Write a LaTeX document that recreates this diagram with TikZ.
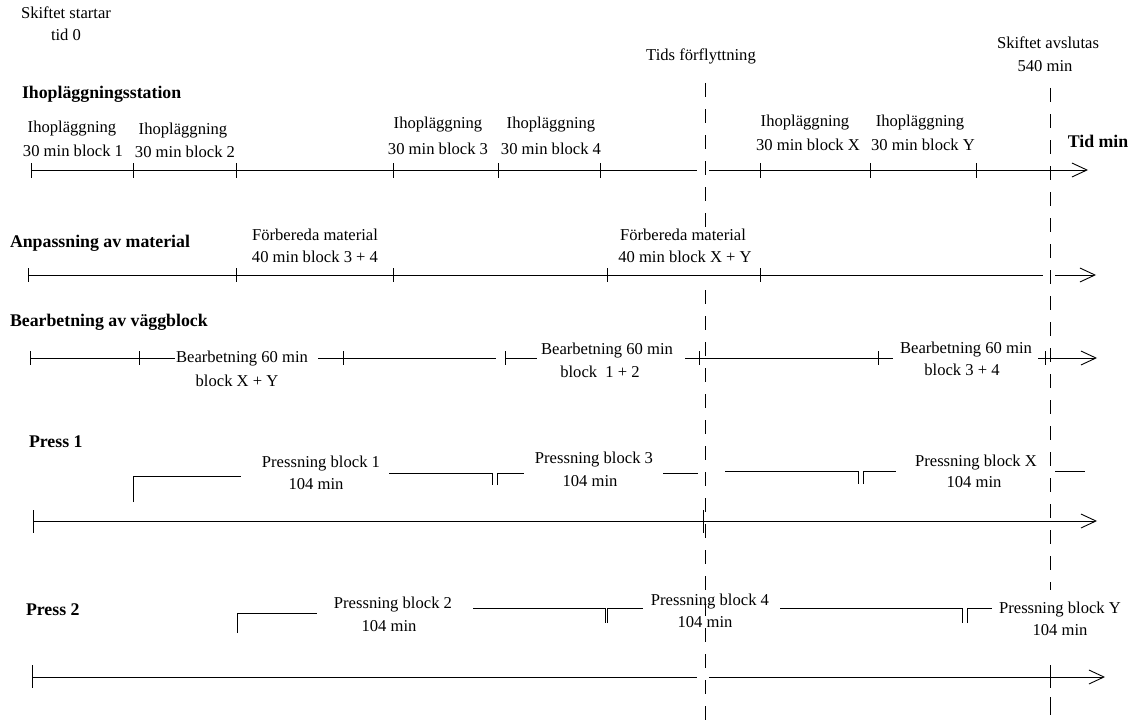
\documentclass[tikz,border=0pt]{standalone}
\usepackage{fontspec}
\setmainfont{Liberation Serif}
\usetikzlibrary{arrows.meta}
\begin{document}
\begin{tikzpicture}[x=1pt,y=-1pt,
  every node/.style={inner sep=0pt,outer sep=0pt,text height=12pt,text depth=4pt},
  lbl/.style={font=\fontsize{16.6}{18}\selectfont,align=center},
  hd/.style={font=\fontsize{17.8}{19}\selectfont\bfseries,anchor=west},
  ax/.style={line width=0.9pt},
  axarr/.style={line width=0.9pt,-{Straight Barb[length=15pt,width=14pt,line width=0.9pt]}},
  tk/.style={line width=0.9pt},
  brk/.style={line width=0.9pt},
  dsh/.style={line width=0.9pt,dash pattern=on 14pt off 12pt}]
\useasboundingbox (0,0) rectangle (1130,725);
\fill[white] (0,0) rectangle (1130,725);

% top texts
\node[lbl] (st1) at (66,15) {Skiftet startar};
\node[lbl] (st2) at (66,37) {tid 0};
\node[lbl] (tf) at (701,57) {Tids förflyttning};
\node[lbl] (sa1) at (1048,45) {Skiftet avslutas};
\node[lbl] (sa2) at (1045,67) {540 min};

% dashed lines
\coordinate (d1a) at (705,83); \coordinate (d1b) at (705,228);
\coordinate (d1c) at (705,290); \coordinate (d1d) at (705,725);
\coordinate (d2a) at (1050,88); \coordinate (d2b) at (1050,590);
\coordinate (d2c) at (1050,697); \coordinate (d2d) at (1050,715);
\draw[dsh] (d1a) -- (d1b);
\draw[dsh] (d1c) -- (d1d);
\draw[dsh] (d2a) -- (d2b);
\draw[line width=0.9pt] (d2c) -- (d2d);

% ===== Row 1 =====
\node[hd] (h1) at (22,95) {Ihopläggningsstation};
\node[hd,anchor=center] (tid) at (1098,143) {Tid min};
\coordinate (r1a) at (31,170); \coordinate (r1b) at (697,170);
\coordinate (r1c) at (709,170); \coordinate (r1d) at (1088,170);
\draw[ax] (r1a) -- (r1b);
\draw[axarr] (r1c) -- (r1d);
\foreach \x in {31,133,236,393,498,600,760,870,976}
  \draw[tk] (\x,163) -- (\x,178);
\node[lbl] (i1a) at (72,128) {Ihopläggning};
\node[lbl] (i1b) at (73,152) {30 min block 1};
\node[lbl] (i2a) at (183,130) {Ihopläggning};
\node[lbl] (i2b) at (185,153) {30 min block 2};
\node[lbl] (i3a) at (438,124) {Ihopläggning};
\node[lbl] (i3b) at (438,150) {30 min block 3};
\node[lbl] (i4a) at (551,124) {Ihopläggning};
\node[lbl] (i4b) at (551,150) {30 min block 4};
\node[lbl] (iXa) at (805,122) {Ihopläggning};
\node[lbl] (iXb) at (808,146) {30 min block X};
\node[lbl] (iYa) at (920,122) {Ihopläggning};
\node[lbl] (iYb) at (923,146) {30 min block Y};

% ===== Row 2 =====
\node[hd] (h2) at (10,243) {Anpassning av material};
\coordinate (r2a) at (28,275); \coordinate (r2b) at (1043,275);
\coordinate (r2c) at (1055,275); \coordinate (r2d) at (1096,275);
\draw[ax] (r2a) -- (r2b);
\draw[axarr] (r2c) -- (r2d);
\foreach \x in {28,236,393,607,760}
  \draw[tk] (\x,268) -- (\x,282);
\node[lbl] (f1a) at (315,236) {Förbereda material};
\node[lbl] (f1b) at (315,258) {40 min block 3 + 4};
\node[lbl] (f2a) at (683,236) {Förbereda material};
\node[lbl] (f2b) at (685,258) {40 min block X + Y};

% ===== Row 3 =====
\node[hd] (h3) at (10,322) {Bearbetning av väggblock};
\node[lbl] (b1a) at (242,358) {Bearbetning 60 min};
\node[lbl] (b1b) at (237,382) {block X + Y};
\node[lbl] (b2a) at (607,350) {Bearbetning 60 min};
\node[lbl] (b2b) at (600,373) {block \ 1 + 2};
\node[lbl] (b3a) at (966,349) {Bearbetning 60 min};
\node[lbl] (b3b) at (962,371) {block 3 + 4};
\coordinate (r3a) at (30,358); \coordinate (r3b) at (175,358);
\coordinate (r3c) at (318,358); \coordinate (r3d) at (496,358);
\coordinate (r3e) at (505,358); \coordinate (r3f) at (537,358);
\coordinate (r3g) at (685,358); \coordinate (r3h) at (893,358);
\coordinate (r3i) at (1038,358); \coordinate (r3j) at (1097,358);
\draw[ax] (r3a) -- (r3b);
\draw[ax] (r3c) -- (r3d);
\draw[ax] (r3e) -- (r3f);
\draw[ax] (r3g) -- (r3h);
\draw[axarr] (r3i) -- (r3j);
\foreach \x in {30,139,343,505,699,878,1045}
  \draw[tk] (\x,351) -- (\x,365);

% ===== Row 4 : Press 1 =====
\node[hd] (h4) at (29,443) {Press 1};
\coordinate (r4a) at (33,521); \coordinate (r4b) at (1097,521);
\draw[axarr] (r4a) -- (r4b);
\foreach \x in {33,703}
  \draw[tk] (\x,510) -- (\x,533);
\node[lbl] (p1a) at (321,463) {Pressning block 1};
\node[lbl] (p1b) at (316,485) {104 min};
\node[lbl] (p3a) at (594,459) {Pressning block 3};
\node[lbl] (p3b) at (590,482) {104 min};
\node[lbl] (pXa) at (976,462) {Pressning block X};
\node[lbl] (pXb) at (974,483) {104 min};
\draw[brk] (133,502) -- (133,476) -- (241,476);
\draw[brk] (389,473) -- (492,473) -- (492,485);
\draw[brk] (497,485) -- (497,473) -- (524,473);
\draw[brk] (663,473) -- (698,473);
\draw[brk] (725,471) -- (858,471) -- (858,484);
\draw[brk] (863,484) -- (863,471) -- (896,471);
\draw[brk] (1055,471) -- (1085,471);

% ===== Row 5 : Press 2 =====
\node[hd] (h5) at (26,611) {Press 2};
\coordinate (r5a) at (32,677); \coordinate (r5b) at (697,677);
\coordinate (r5c) at (709,677); \coordinate (r5d) at (1105,677);
\draw[ax] (r5a) -- (r5b);
\draw[axarr] (r5c) -- (r5d);
\foreach \x in {32,1050}
  \draw[tk] (\x,665) -- (\x,688);
\node[lbl] (p2a) at (393,604) {Pressning block 2};
\node[lbl] (p2b) at (389,627) {104 min};
\node[lbl] (p4a) at (710,601) {Pressning block 4};
\node[lbl] (p4b) at (705,623) {104 min};
\node[lbl] (pYa) at (1060,609) {Pressning block Y};
\node[lbl] (pYb) at (1060,631) {104 min};
\draw[brk] (237,633) -- (237,613) -- (317,613);
\draw[brk] (473,608) -- (605,608) -- (605,623);
\draw[brk] (607,623) -- (607,608) -- (643,608);
\draw[brk] (780,608) -- (962,608) -- (962,623);
\draw[brk] (967,623) -- (967,608) -- (992,608);
\end{tikzpicture}
\end{document}
